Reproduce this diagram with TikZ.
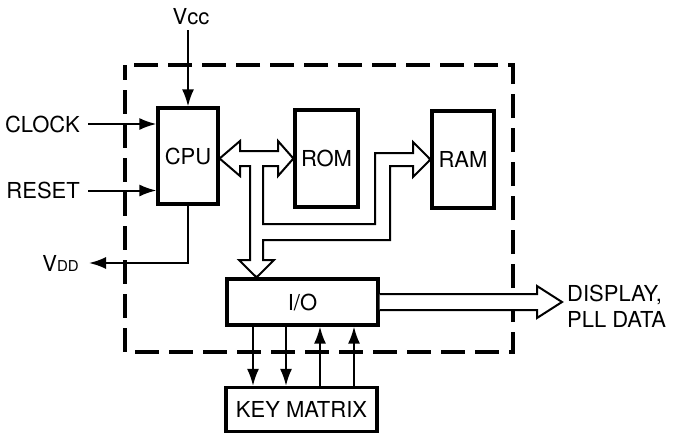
\documentclass[tikz,border=0pt]{standalone}
\usepackage{fontspec}
\setmainfont{TeX Gyre Heros}
\usetikzlibrary{arrows.meta}
\begin{document}
\begin{tikzpicture}[x=1pt,y=-1pt,
  every node/.style={font=\fontsize{22}{26}\selectfont},
  blk/.style={draw,line width=3.2pt,inner sep=0pt},
  lbl/.style={inner sep=0pt},
  arr/.style={line width=2pt,-{Latex[length=17pt,width=12pt]}},
  bus/.style={line width=2pt,fill=white,line join=miter},
  frame/.style={line width=4.5pt,dash pattern=on 24pt off 10pt,dash phase=9pt}]
\useasboundingbox (0,0) rectangle (673,434);
% dashed boundary
\draw[frame] (125,65) rectangle (513,352);
% blocks
\node[blk,minimum width=60pt,minimum height=96pt] (cpu) at (188,156) {CPU};
\node[blk,minimum width=63pt,minimum height=97pt] (rom) at (326.5,158.5) {ROM};
\node[blk,minimum width=62pt,minimum height=97pt] (ram) at (463,159.5) {RAM};
\node[blk,minimum width=151pt,minimum height=46pt] (io) at (302.5,302) {I/O};
\node[blk,minimum width=151pt,minimum height=44pt] (key) at (301.5,409.5) {KEY MATRIX};
% labels
\node[lbl] (vcc) at (191,17) {Vcc};
\node[lbl,anchor=east] (clock) at (80,124) {CLOCK};
\node[lbl,anchor=east] (reset) at (80,190.5) {RESET};
\node[lbl,anchor=east] (vdd) at (79,263) {V{\fontsize{15}{15}\selectfont DD}};
\node[lbl,anchor=west,align=left] (disp) at (567,306.5) {DISPLAY,\\PLL DATA};
% thin arrows
\draw[arr] (cpu.north |- 0,30) -- (cpu.north);
\draw[arr] ([xshift=8pt]clock.east) -- (clock.east -| cpu.west);
\draw[arr] ([xshift=8pt]reset.east) -- (reset.east -| cpu.west);
\draw[arr] (cpu.south) |- ([xshift=10pt]vdd.east);
\draw[arr] (io.south -| 253,0) -- (key.north -| 253,0);
\draw[arr] (io.south -| 286,0) -- (key.north -| 286,0);
\draw[arr] (key.north -| 320,0) -- (io.south -| 320,0);
\draw[arr] (key.north -| 354,0) -- (io.south -| 354,0);
% bus structure (CPU <-> ROM, RAM, I/O)
\coordinate (tc) at (cpu.east |- 0,158.5);
\coordinate (tr) at (rom.west |- 0,158.5);
\coordinate (tm) at (ram.west |- 0,159.5);
\coordinate (ti) at (io.north -| 256.5,0);
\draw[bus] (tc) -- (240,141) -- (240,151) -- (278,151) -- (278,141) -- (tr)
  -- (278,176) -- (278,166) -- (263,166) -- (263,224) -- (375,224) -- (375,153)
  -- (413,153) -- (413,142) -- (tm) -- (413,177) -- (413,166) -- (390,166)
  -- (390,240) -- (263,240) -- (263,260) -- (274,260) -- (ti) -- (239,260)
  -- (250,260) -- (250,166) -- (240,166) -- (240,176) -- cycle;
% display bus
\draw[bus] (io.east |- 0,294) -- (537,294) -- (537,286) -- (562,302)
  -- (537,318) -- (537,310) -- (io.east |- 0,310);
\end{tikzpicture}
\end{document}
